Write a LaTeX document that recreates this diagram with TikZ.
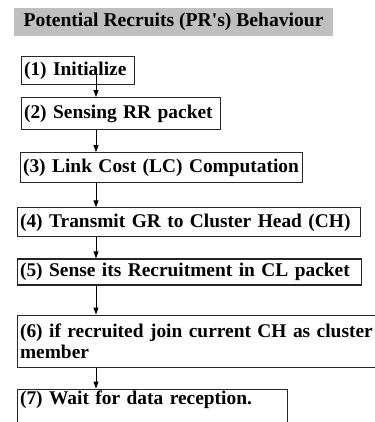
\documentclass[tikz,border=0pt]{standalone}
\usepackage{fontspec}
\setmainfont{Liberation Serif}
\usetikzlibrary{positioning, arrows.meta}

\begin{document}
\begin{tikzpicture}[
    x=1pt, y=1pt,
    node distance=20pt,
    stepbox/.style={rectangle, draw=black!85, line width=1.1pt, inner xsep=2.5pt, inner ysep=2pt, align=left, font=\fontsize{19.4}{21.5}\selectfont\bfseries},
    arrow/.style={-{Triangle[width=5pt,length=7pt]}, line width=1pt}
    ]
\useasboundingbox (0,0) rectangle (374,-422);
\node[fill=black!25, minimum width=319pt, minimum height=28pt, inner sep=0pt, font=\fontsize{19.6}{22}\selectfont\bfseries] (title) at (173.5,-22) {Potential Recruits (PR\textquotesingle s) Behaviour};
\coordinate (ax) at (96,0);

\node[stepbox, text width=108pt, minimum height=28pt, anchor=north west] (s1) at (21,-56) {(1) Initialize};
\node[stepbox, text width=194pt, minimum height=32pt, below=12pt of s1.south west, anchor=north west] (s2) {(2) Sensing RR packet};
\node[stepbox, text width=277pt, minimum height=30pt, below=22pt of s2.south west, anchor=north west, xshift=-1pt] (s3) {(3) Link Cost (LC) Computation};
\node[stepbox, text width=338pt, minimum height=29pt, below=24pt of s3.south west, anchor=north west, xshift=-3pt] (s4) {(4) Transmit GR to Cluster Head (CH)};
\node[stepbox, text width=339pt, minimum height=26pt, below=21pt of s4.south west, anchor=north west] (s5) {(5) Sense its Recruitment in CL packet};
\node[stepbox, text width=375pt, minimum height=52pt, below=29pt of s5.south west, anchor=north west] (s6) {(6) if recruited join current CH as cluster\\member};
\node[stepbox, text width=265pt, text depth=22pt, below=21pt of s6.south west, anchor=north west] (s7) {(7) Wait for data reception.};

\draw[arrow] (s1.center -| ax) -- (s2.north -| ax);
\draw[arrow] (s2.south -| ax) -- (s3.north -| ax);
\draw[arrow] (s3.south -| ax) -- (s4.north -| ax);
\draw[arrow] (s4.south -| ax) -- (s5.north -| ax);
\draw[arrow] (s5.south -| ax) -- (s6.north -| ax);
\draw[arrow] (s6.south -| ax) -- (s7.north -| ax);
\end{tikzpicture}
\end{document}
